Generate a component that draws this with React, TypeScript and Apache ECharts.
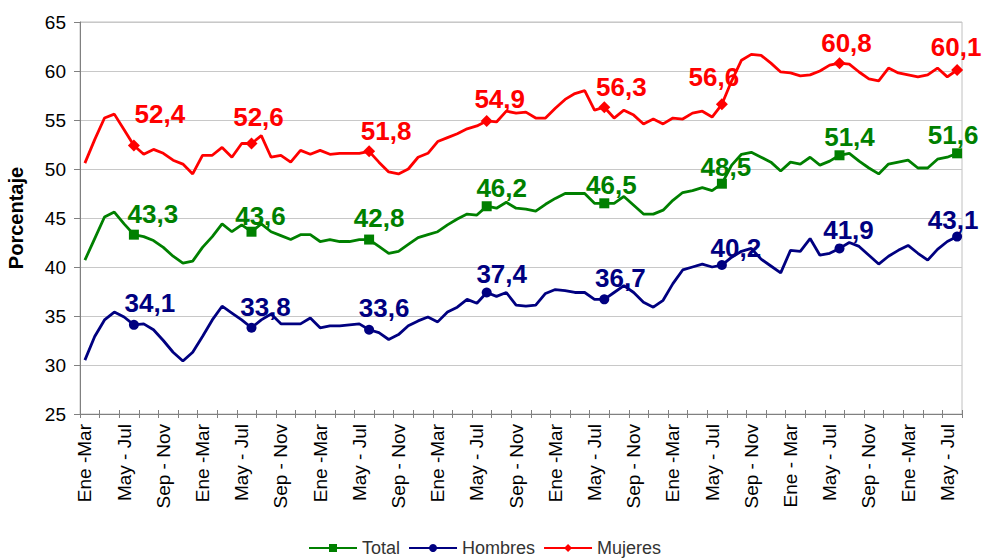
import React, { useEffect, useRef } from "react";
import * as echarts from "echarts";

// Spanish month abbreviations used for the rolling 3-month periods
const months = ["Ene", "Feb", "Mar", "Abr", "May", "Jun", "Jul", "Ago", "Sep", "Oct", "Nov", "Dic"];

// 90 rolling periods (Ene - Mar of year 1 ... Jun - Ago of year 8)
const categories: string[] = [];
for (let i = 0; i < 90; i++) {
  const a = months[i % 12];
  const b = months[(i + 2) % 12];
  if (i % 12 === 0) categories.push(i === 72 ? "Ene - Mar" : "Ene -Mar");
  else categories.push(`${a} - ${b}`);
}

const yTicks = [25, 30, 35, 40, 45, 50, 55, 60, 65];

// Indices of the points that carry a marker and a value label
const markedIdx = [5, 17, 29, 41, 53, 65, 77, 89];

const totalValues = [
  40.7, 42.9, 45.1, 45.6, 44.4, 43.3, 43.1, 42.7, 42.0, 41.1,
  40.4, 40.6, 42.0, 43.1, 44.4, 43.6, 44.3, 43.6, 44.4, 43.6,
  43.2, 42.8, 43.3, 43.3, 42.6, 42.8, 42.6, 42.6, 42.8, 42.8,
  42.1, 41.4, 41.6, 42.3, 43.0, 43.3, 43.6, 44.3, 44.9, 45.4,
  45.3, 46.2, 46.0, 46.6, 46.0, 45.9, 45.7, 46.4, 47.0, 47.5,
  47.5, 47.5, 46.5, 46.5, 46.5, 47.2, 46.3, 45.4, 45.4, 45.8,
  46.8, 47.6, 47.8, 48.1, 47.8, 48.5, 50.4, 51.5, 51.7, 51.2,
  50.7, 49.8, 50.7, 50.5, 51.2, 50.4, 50.8, 51.4, 51.6, 50.8,
  50.1, 49.5, 50.5, 50.7, 50.9, 50.1, 50.1, 51.0, 51.2, 51.6,
];

const hombresValues = [
  30.5, 32.9, 34.6, 35.4, 34.9, 34.1, 34.2, 33.6, 32.5, 31.3,
  30.4, 31.3, 32.9, 34.6, 36.0, 35.3, 34.6, 33.8, 34.6, 35.2,
  34.2, 34.2, 34.2, 34.8, 33.8, 34.0, 34.0, 34.1, 34.2, 33.6,
  33.3, 32.6, 33.1, 34.0, 34.5, 34.9, 34.4, 35.4, 35.9, 36.7,
  36.3, 37.4, 37.0, 37.4, 36.1, 36.0, 36.1, 37.3, 37.7, 37.6,
  37.4, 37.4, 36.7, 36.7, 37.4, 38.1, 37.4, 36.4, 35.9, 36.6,
  38.3, 39.7, 40.0, 40.3, 40.0, 40.2, 41.0, 41.6, 41.9, 40.8,
  40.1, 39.4, 41.7, 41.6, 42.9, 41.2, 41.4, 41.9, 42.5, 42.1,
  41.2, 40.3, 41.1, 41.7, 42.2, 41.4, 40.7, 41.8, 42.6, 43.1,
];

const mujeresValues = [
  50.6, 53.0, 55.2, 55.6, 54.0, 52.4, 51.5, 52.0, 51.6, 50.9,
  50.5, 49.5, 51.4, 51.4, 52.2, 51.2, 52.6, 52.6, 53.4, 51.2,
  51.4, 50.7, 51.9, 51.5, 51.9, 51.5, 51.6, 51.6, 51.6, 51.8,
  50.7, 49.7, 49.5, 50.0, 51.2, 51.6, 52.8, 53.2, 53.6, 54.1,
  54.4, 54.9, 54.8, 55.9, 55.7, 55.8, 55.2, 55.2, 56.2, 57.1,
  57.7, 58.0, 56.0, 56.3, 55.2, 56.0, 55.5, 54.6, 55.1, 54.6,
  55.2, 55.1, 55.7, 55.9, 55.3, 56.6, 59.0, 61.1, 61.7, 61.6,
  60.8, 59.9, 59.8, 59.5, 59.6, 60.0, 60.6, 60.8, 60.7, 59.9,
  59.2, 59.0, 60.3, 59.8, 59.6, 59.4, 59.6, 60.3, 59.4, 60.1,
];

// Label placement (offset of the label centre from its marker), one per marked point
const totalLabelDx = [19, 9, 10, 15, 7, 4, 10, -4];
const totalLabelDy = [-21, -16, -22, -18, -18, -17, -18, -18];
const hombresLabelDx = [16, 14, 15, 15, 16, 14, 9, -4];
const hombresLabelDy = [-22, -21, -22, -18, -21, -17, -18, -17];
const mujeresLabelDx = [26, 7, 17, 13, 17, -8, 7, -1];
const mujeresLabelDy = [-31, -27, -20, -22, -20, -27, -20, -23];

const FONT = "'Liberation Sans', Arial, Helvetica, sans-serif";

function buildData(values: number[], dx: number[], dy: number[]) {
  return values.map((v, i) => {
    const k = markedIdx.indexOf(i);
    if (k < 0) return { value: v, symbol: "none" };
    return { value: v, label: { show: true, offset: [dx[k], dy[k]] } };
  });
}

function makeSeries(name: string, color: string, symbol: string, size: number, values: number[], dx: number[], dy: number[]) {
  return {
    name,
    type: "line",
    xAxisIndex: 0,
    yAxisIndex: 0,
    symbol,
    symbolSize: size,
    showAllSymbol: true,
    lineStyle: { color, width: 2.8 },
    itemStyle: { color },
    label: {
      show: false,
      position: "inside",
      align: "center",
      verticalAlign: "middle",
      color,
      fontFamily: FONT,
      fontWeight: "bold",
      fontSize: 26,
      formatter: (p: any) => Number(p.value).toFixed(1).replace(".", ","),
    },
    emphasis: { disabled: true },
    data: buildData(values, dx, dy),
  };
}

export default function App() {
  const ref = useRef<HTMLDivElement>(null);

  useEffect(() => {
    if (!ref.current) return;
    const chart = echarts.init(ref.current, undefined, { renderer: "svg" });
    chart.setOption({
      animation: false,
      backgroundColor: "#ffffff",
      grid: {
        left: 80,
        right: 20,
        top: 22,
        bottom: 145,
        outerBoundsMode: "none",
        containLabel: false,
        show: true,
        borderColor: "#c0c0c0",
        borderWidth: 1,
      },
      legend: {
        left: 303,
        top: 533,
        itemWidth: 48,
        itemHeight: 10,
        itemGap: 8,
        textStyle: { fontFamily: FONT, fontSize: 18, color: "#333333", lineHeight: 20 },
        data: ["Total", "Hombres", "Mujeres"],
      },
      xAxis: [
        {
          type: "category",
          data: categories,
          boundaryGap: true,
          axisLine: { show: true, lineStyle: { color: "#808080", width: 1 } },
          axisTick: { show: true, interval: 1, length: 4, lineStyle: { color: "#808080" } },
          axisLabel: {
            interval: 3,
            rotate: 90,
            margin: 10,
            fontFamily: FONT,
            fontSize: 19,
            color: "#000000",
          },
          splitLine: { show: false },
        },
        {
          type: "category",
          data: categories,
          boundaryGap: true,
          position: "bottom",
          axisLine: { show: false },
          axisTick: { show: true, inside: true, interval: 1, length: 4, lineStyle: { color: "#808080" } },
          axisLabel: { show: false },
          splitLine: { show: false },
        },
      ],
      yAxis: {
        type: "value",
        min: yTicks[0],
        max: yTicks[yTicks.length - 1],
        interval: 5,
        name: "Porcentaje",
        nameLocation: "middle",
        nameRotate: 90,
        nameGap: 54,
        nameTextStyle: { fontFamily: FONT, fontSize: 20, fontWeight: "bold", color: "#000000" },
        axisLine: { show: true, lineStyle: { color: "#808080", width: 1 } },
        axisTick: { show: true, length: 6, lineStyle: { color: "#808080" } },
        axisLabel: { fontFamily: FONT, fontSize: 19, color: "#000000", margin: 14 },
        splitLine: { show: true, lineStyle: { color: "#c8c8c8", width: 1 } },
      },
      series: [
        makeSeries("Total", "#008000", "rect", 10, totalValues, totalLabelDx, totalLabelDy),
        makeSeries("Hombres", "#000080", "circle", 10, hombresValues, hombresLabelDx, hombresLabelDy),
        makeSeries("Mujeres", "#ff0000", "diamond", 12, mujeresValues, mujeresLabelDx, mujeresLabelDy),
      ],
    });
    return () => chart.dispose();
  }, []);

  return (
    <div
      ref={ref}
      style={{ position: "fixed", left: 0, top: 0, width: 982, height: 559, background: "#fff" }}
    />
  );
}
